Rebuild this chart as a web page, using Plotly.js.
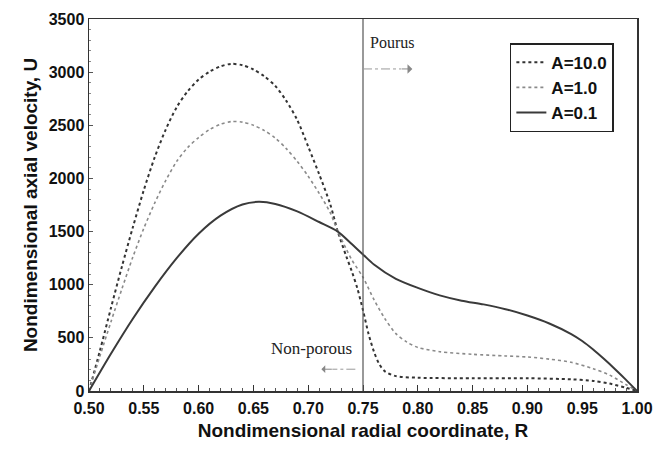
<!DOCTYPE html>
<html><head><meta charset="utf-8">
<script src="https://cdn.plot.ly/plotly-3.0.1.min.js"></script>
<style>html,body{margin:0;padding:0;background:#fff}#chart{width:654px;height:453px}</style>
</head><body><div id="chart"></div>
<script>
const r10 = [0.50,0.51,0.52,0.53,0.54,0.55,0.56,0.57,0.58,0.59,0.60,0.61,0.62,0.63,0.64,0.65,0.66,0.67,0.68,0.69,0.70,0.71,0.72,0.727,0.735,0.74,0.745,0.75,0.755,0.76,0.765,0.77,0.78,0.80,0.85,0.90,0.94,0.96,0.975,0.99,1.00];
const u10 = [0,380,780,1170,1540,1890,2200,2460,2670,2820,2930,3005,3055,3078,3065,3025,2960,2870,2730,2550,2300,2040,1760,1500,1260,1120,960,760,540,370,250,185,140,125,120,120,110,95,70,30,0];
const r1 = [0.50,0.51,0.52,0.53,0.54,0.55,0.56,0.57,0.58,0.59,0.60,0.61,0.62,0.63,0.64,0.65,0.66,0.67,0.68,0.69,0.70,0.71,0.72,0.727,0.735,0.74,0.75,0.76,0.77,0.78,0.79,0.80,0.82,0.85,0.88,0.90,0.92,0.94,0.96,0.975,0.99,1.00];
const u1 = [0,330,650,960,1260,1530,1770,1980,2160,2290,2385,2460,2510,2535,2530,2500,2450,2380,2280,2160,2020,1860,1680,1500,1330,1230,1070,860,680,540,460,410,370,345,330,320,300,270,210,150,60,0];
const r01 = [0.50,0.52,0.54,0.56,0.58,0.60,0.62,0.64,0.655,0.67,0.69,0.71,0.727,0.74,0.75,0.76,0.78,0.80,0.82,0.84,0.86,0.88,0.90,0.92,0.94,0.95,0.96,0.97,0.98,0.99,1.00];
const u01 = [0,350,680,980,1250,1480,1650,1755,1780,1760,1690,1590,1500,1380,1285,1190,1055,970,900,850,815,770,710,635,535,470,390,300,205,105,0];
const seriesNames = ['A=10.0','A=1.0','A=0.1'];
const xTicks = [0.50,0.55,0.60,0.65,0.70,0.75,0.80,0.85,0.90,0.95,1.00];
const yTicks = [0,500,1000,1500,2000,2500,3000,3500];
const interfaceR = [0.75];

const FAM = 'Liberation Sans, Arial, sans-serif';
const data = [
  {x:r10, y:u10, name:seriesNames[0], mode:'lines', line:{color:'#333', width:2, dash:'dot', shape:'spline', smoothing:0.8}},
  {x:r1, y:u1, name:seriesNames[1], mode:'lines', line:{color:'#8a8a8a', width:1.6, dash:'dot', shape:'spline', smoothing:0.8}},
  {x:r01, y:u01, name:seriesNames[2], mode:'lines', line:{color:'#3a3a3a', width:2, shape:'spline', smoothing:0.8}}
];
const tickFont = {family:FAM, size:16, color:'#111', weight:'bold'};
const titleFont = {family:FAM, size:19, color:'#111', weight:'bold'};
const layout = {
  width:654, height:453,
  margin:{l:89, r:17, t:19, b:62},
  paper_bgcolor:'#fff', plot_bgcolor:'#fff',
  showlegend:true,
  legend:{x:0.768, y:0.935, xanchor:'left', yanchor:'top', bgcolor:'#fff', bordercolor:'#222', borderwidth:1.5,
    font:{family:FAM, size:17, color:'#111', weight:'bold'}, tracegroupgap:0, itemwidth:30},
  xaxis:{range:[0.5,1.0], tickvals:xTicks, ticktext:xTicks.map(v=>v.toFixed(2)), ticks:'inside', ticklen:6, tickcolor:'#333',
    minor:{dtick:0.01, ticks:'inside', ticklen:3, tickcolor:'#555'}, ticklabelstandoff:2,
    showline:true, linecolor:'#333', linewidth:1.5, mirror:true, showgrid:false, zeroline:false,
    tickfont:tickFont, title:{text:'Nondimensional radial coordinate, R', font:titleFont, standoff:8}},
  yaxis:{range:[0,3500], tickvals:yTicks, ticks:'inside', ticklen:4, tickcolor:'#555',
    minor:{dtick:100, ticks:'inside', ticklen:2, tickcolor:'#888'},
    showline:true, linecolor:'#333', linewidth:1.5, mirror:true, showgrid:false, zeroline:false,
    tickfont:tickFont, title:{text:'Nondimensional axial velocity, U', font:titleFont, standoff:6}},
  shapes:[
    {type:'line', xref:'x', yref:'paper', x0:interfaceR[0], x1:interfaceR[0], y0:0, y1:1, line:{color:'#555', width:1.2}},
    {type:'line', xref:'x', yref:'y', x0:0.75, x1:0.785, y0:3030, y1:3030, line:{color:'#999', width:1, dash:'dashdot'}},
    {type:'line', xref:'x', yref:'y', x0:0.743, x1:0.722, y0:205, y1:205, line:{color:'#999', width:1, dash:'dashdot'}}
  ],
  annotations:[
    {x:0.7545, y:3275, xref:'x', yref:'y', text:'Pourus', showarrow:false, xanchor:'left', yanchor:'middle',
      font:{family:'Liberation Serif, Times New Roman, serif', size:16, color:'#222'}},
    {x:0.7415, y:400, xref:'x', yref:'y', text:'Non-porous', showarrow:false, xanchor:'right', yanchor:'middle',
      font:{family:'Liberation Serif, Times New Roman, serif', size:17, color:'#222'}},
    {x:0.795, y:3030, xref:'x', yref:'y', ax:-12, ay:0, text:'', showarrow:true, arrowhead:1, arrowsize:1.6, arrowwidth:1, arrowcolor:'#888'},
    {x:0.712, y:205, xref:'x', yref:'y', ax:12, ay:0, text:'', showarrow:true, arrowhead:1, arrowsize:1.3, arrowwidth:1, arrowcolor:'#888'}
  ]
};
Plotly.newPlot('chart', data, layout, {displayModeBar:false, staticPlot:true});
</script></body></html>
